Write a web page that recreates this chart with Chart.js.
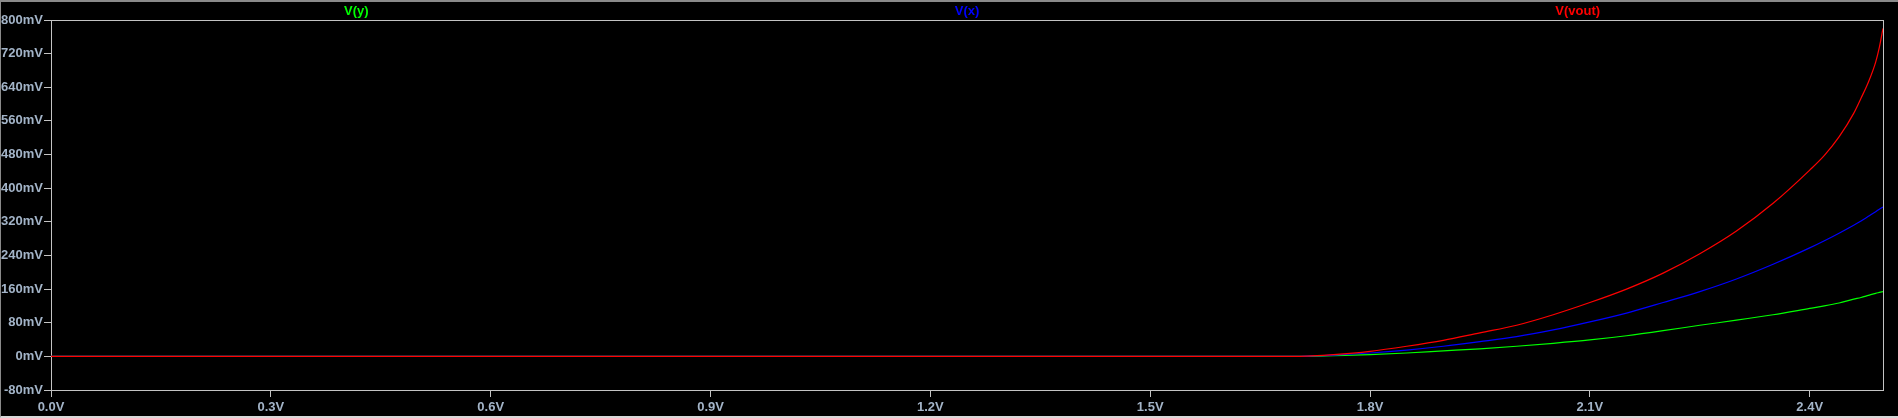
<!DOCTYPE html>
<html>
<head>
<meta charset="utf-8">
<script src="https://cdn.jsdelivr.net/npm/chart.js@4"></script>
<style>
    html, body { margin: 0; padding: 0; background: #000; }
    #wrap {
        position: relative;
        width: 1898px;
        height: 418px;
        box-sizing: border-box;
        border-top: 2px solid #8a8a8a;
        border-left: 1px solid #8a8a8a;
        border-bottom: 2px solid #d8d8d8;
        overflow: hidden;
    }
    #plot { position: absolute; left: -1px; top: -2px; }
</style>
</head>
<body>
<div id="wrap"><canvas id="plot" width="1898" height="418"></canvas></div>
<script>
// sweep voltage (V) and the three traces (mV)
const sweep = [0, 1.70, 1.72, 1.75, 1.80, 1.85, 1.90, 1.95, 2.00, 2.05, 2.10, 2.15, 2.20, 2.25, 2.30, 2.35, 2.40, 2.42, 2.44, 2.46, 2.47, 2.48, 2.49, 2.495, 2.50];
const vy   = [0, 0, 0, 1.5, 4, 8, 13, 18, 24, 31, 39, 49, 61, 74, 86, 99, 114, 120, 127, 136, 140, 145, 150, 152, 154];
const vx   = [0, 0, 1, 3, 8, 15, 24, 35, 47, 63, 82, 103, 128, 154, 184, 219, 258, 275, 293, 312, 322, 333, 344, 350, 355];
const vout = [0, 0, 1, 4, 12, 24, 38, 56, 74, 99, 128, 160, 198, 244, 298, 364, 443, 478, 522, 578, 614, 652, 700, 735, 780];

const traceNames = ['V(y)', 'V(x)', 'V(vout)'];
const traceColors = ['#00ff00', '#0000ff', '#ff0000'];

const xTicks = [0, 0.3, 0.6, 0.9, 1.2, 1.5, 1.8, 2.1, 2.4];
const xTickLabels = ['0.0V', '0.3V', '0.6V', '0.9V', '1.2V', '1.5V', '1.8V', '2.1V', '2.4V'];
const yTicks = [-80, 0, 80, 160, 240, 320, 400, 480, 560, 640, 720, 800];
const yTickLabels = ['-80mV', '0mV', '80mV', '160mV', '240mV', '320mV', '400mV', '480mV', '560mV', '640mV', '720mV', '800mV'];

const labelColor = '#a3b4c8';
const frameColor = '#c4c4c4';
const tickFont = { family: 'Liberation Sans, Arial, sans-serif', size: 13, weight: 'bold' };

function toPoints(values) {
    return sweep.map((v, i) => ({ x: v, y: values[i] }));
}

// box around the plot area
const framePlugin = {
    id: 'frame',
    beforeDatasetsDraw(chart) {
        const a = chart.chartArea;
        const ctx = chart.ctx;
        ctx.save();
        ctx.strokeStyle = frameColor;
        ctx.lineWidth = 1;
        ctx.strokeRect(Math.round(a.left) + 0.5, Math.round(a.top) + 0.5,
            Math.round(a.right - a.left), Math.round(a.bottom - a.top));
        ctx.restore();
    }
};

// trace names above the plot, LTspice style
const traceLabels = {
    id: 'traceLabels',
    afterDraw(chart) {
        const a = chart.chartArea;
        const ctx = chart.ctx;
        ctx.save();
        ctx.font = 'bold 13px "Liberation Sans", Arial, sans-serif';
        ctx.textAlign = 'center';
        ctx.textBaseline = 'middle';
        traceNames.forEach((name, i) => {
            ctx.fillStyle = traceColors[i];
            const x = a.left + (a.right - a.left) * (2 * i + 1) / 6;
            ctx.fillText(name, x, 11);
        });
        ctx.restore();
    }
};

const datasets = [
    { label: traceNames[2], data: toPoints(vout), borderColor: traceColors[2], order: 0 },
    { label: traceNames[1], data: toPoints(vx), borderColor: traceColors[1], order: 1 },
    { label: traceNames[0], data: toPoints(vy), borderColor: traceColors[0], order: 2 }
].map(d => Object.assign(d, {
    borderWidth: 1.2,
    pointRadius: 0,
    fill: false,
    cubicInterpolationMode: 'monotone'
}));

new Chart(document.getElementById('plot'), {
    type: 'line',
    data: { datasets },
    plugins: [framePlugin, traceLabels],
    options: {
        responsive: false,
        animation: false,
        events: [],
        layout: { padding: { top: 20, right: 15, bottom: 0, left: 0 } },
        plugins: { legend: { display: false }, tooltip: { enabled: false } },
        scales: {
            x: {
                type: 'linear',
                min: 0,
                max: 2.5,
                afterBuildTicks: s => { s.ticks = xTicks.map(v => ({ value: v })); },
                afterFit: s => { s.height = 28; },
                border: { display: true, color: frameColor, width: 1 },
                grid: { drawOnChartArea: false, drawTicks: true, tickLength: 7, color: frameColor },
                ticks: {
                    color: labelColor,
                    font: tickFont,
                    padding: 3,
                    maxRotation: 0,
                    autoSkip: false,
                    callback: (v, i) => xTickLabels[i]
                }
            },
            y: {
                type: 'linear',
                min: -80,
                max: 800,
                afterBuildTicks: s => { s.ticks = yTicks.map(v => ({ value: v })); },
                afterFit: s => { s.width = 51; },
                border: { display: true, color: frameColor, width: 1 },
                grid: { drawOnChartArea: false, drawTicks: true, tickLength: 7, color: frameColor },
                ticks: {
                    color: labelColor,
                    font: tickFont,
                    padding: 1,
                    autoSkip: false,
                    callback: (v, i) => yTickLabels[i]
                }
            }
        }
    }
});
</script>
</body>
</html>
